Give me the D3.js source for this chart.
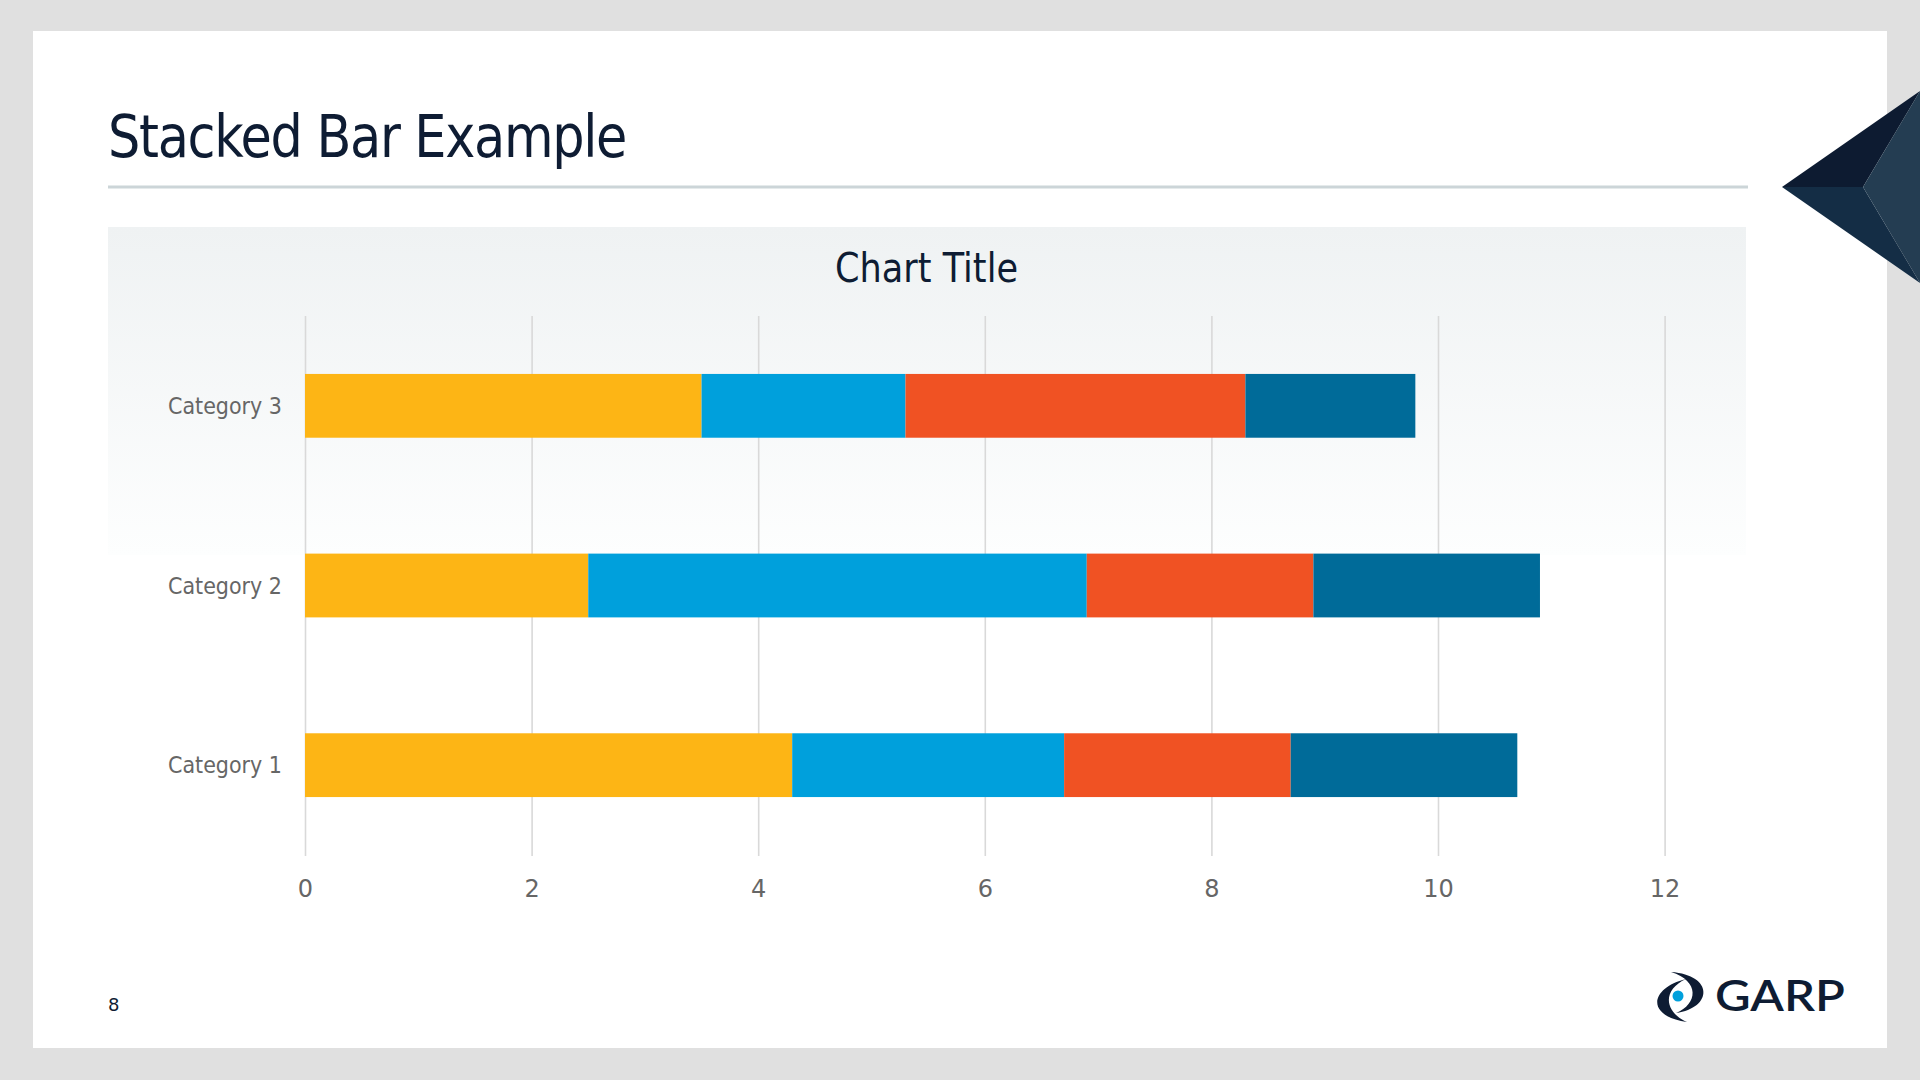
<!DOCTYPE html>
<html>
<head>
<meta charset="utf-8">
<script src="https://cdn.jsdelivr.net/npm/d3@7"></script>
<style>
  html, body { margin: 0; padding: 0; background: #e0e0e0; }
  svg { display: block; }
</style>
</head>
<body>
<svg id="chart" width="1920" height="1080"></svg>
<script>
// ---- data ----
const categories = ["Category 1", "Category 2", "Category 3"];
const seriesNames = ["Series 1", "Series 2", "Series 3", "Series 4"];
const series1 = [4.3, 2.5, 3.5];
const series2 = [2.4, 4.4, 1.8];
const series3 = [2.0, 2.0, 3.0];
const series4 = [2.0, 2.0, 1.5];
const seriesColors = ["#fdb515", "#00a0dc", "#f05223", "#006b99"];
const xTicks = [0, 2, 4, 6, 8, 10, 12];
const slideTitle = "Stacked Bar Example";
const chartTitle = "Chart Title";
const pageNumber = "8";

const rows = categories.map((c, i) => ({
  category: c,
  "Series 1": series1[i], "Series 2": series2[i],
  "Series 3": series3[i], "Series 4": series4[i]
}));

const svg = d3.select("#chart");
const FONT = "'DejaVu Sans', Verdana, sans-serif";
const NAVY = "#0e1c33";

// slide background
svg.append("rect").attr("x", 33).attr("y", 31).attr("width", 1854).attr("height", 1017).attr("fill", "#ffffff");

// slide title
svg.append("text").attr("x", 108).attr("y", 157)
  .attr("font-family", FONT).attr("font-size", 58).attr("fill", NAVY)
  .attr("letter-spacing", -1.5)
  .attr("textLength", 518).attr("lengthAdjust", "spacingAndGlyphs")
  .text(slideTitle);

// divider
svg.append("line").attr("x1", 108).attr("x2", 1748).attr("y1", 187).attr("y2", 187)
  .attr("stroke", "#ccd5d8").attr("stroke-width", 3);

// decorative pyramid
const deco = svg.append("g");
deco.append("polygon").attr("points", "1782,187 1920,91 1863,187").attr("fill", "#0d1b31");
deco.append("polygon").attr("points", "1782,187 1863,187 1920,283").attr("fill", "#142d45");
deco.append("polygon").attr("points", "1863,187 1920,91 1920,283").attr("fill", "#243d52");

// chart panel gradient
const defs = svg.append("defs");
const grad = defs.append("linearGradient").attr("id", "panelGrad")
  .attr("x1", 0).attr("y1", 0).attr("x2", 0).attr("y2", 1);
grad.append("stop").attr("offset", "0%").attr("stop-color", "#eff2f3");
grad.append("stop").attr("offset", "100%").attr("stop-color", "#fdfefe");
svg.append("rect").attr("x", 108).attr("y", 227).attr("width", 1638).attr("height", 328)
  .attr("fill", "url(#panelGrad)");

// chart title
svg.append("text").attr("x", 926.5).attr("y", 282).attr("text-anchor", "middle")
  .attr("font-family", FONT).attr("font-size", 40).attr("fill", NAVY)
  .attr("textLength", 183).attr("lengthAdjust", "spacingAndGlyphs")
  .text(chartTitle);

// scales
const x = d3.scaleLinear().domain([0, 12]).range([305, 1664.6]);
const y = d3.scaleBand().domain(categories.slice().reverse()).range([316, 855])
  .paddingInner(0.645).paddingOuter(0.3225);

// gridlines
const grid = svg.append("g").attr("transform", "translate(0,316)")
  .call(d3.axisBottom(x).tickValues(xTicks).tickSize(540).tickFormat(""));
grid.select(".domain").remove();
grid.selectAll("line").attr("stroke", "#d9d9d9").attr("stroke-width", 1.6);

// stacked bars
const stack = d3.stack().keys(seriesNames)(rows);
svg.append("g").selectAll("g").data(stack).join("g")
  .attr("fill", (d, i) => seriesColors[i])
  .selectAll("rect").data(d => d).join("rect")
  .attr("x", d => x(d[0]))
  .attr("width", d => x(d[1]) - x(d[0]))
  .attr("y", d => y(d.data.category))
  .attr("height", y.bandwidth());

// x tick labels
const xAxis = svg.append("g").attr("transform", "translate(0,870)")
  .call(d3.axisBottom(x).tickValues(xTicks).tickSize(0).tickPadding(0).tickFormat(d3.format("d")));
xAxis.select(".domain").remove();
xAxis.selectAll("text").attr("font-family", FONT).attr("font-size", 24)
  .attr("fill", "#666666").attr("dy", "0").attr("y", 27);

// category labels
const yAxis = svg.append("g").attr("transform", "translate(282,0)")
  .call(d3.axisLeft(y).tickSize(0).tickPadding(0));
yAxis.select(".domain").remove();
yAxis.selectAll("text").attr("font-family", FONT).attr("font-size", 23)
  .attr("fill", "#666666").attr("dy", "0.35em")
  .attr("textLength", 114).attr("lengthAdjust", "spacingAndGlyphs");

// page number
svg.append("text").attr("x", 108).attr("y", 1011)
  .attr("font-family", FONT).attr("font-size", 18).attr("fill", NAVY).text(pageNumber);

// GARP logo
const logo = svg.append("g");
logo.append("path").attr("d", "M1686,979 C1650,988 1645,1016 1687,1022 C1664,1012 1662,990 1686,979 Z").attr("fill", NAVY);
logo.append("path").attr("d", "M1671,972 C1714,975 1713,1008 1676,1013 C1698,1004 1700,981 1671,972 Z").attr("fill", NAVY);
logo.append("circle").attr("cx", 1678).attr("cy", 996).attr("r", 5.5).attr("fill", "#00a0dc");
logo.append("text").attr("x", 1715).attr("y", 1011)
  .attr("font-family", "Lato, 'Noto Sans', sans-serif").attr("font-weight", 600)
  .attr("font-size", 43).attr("fill", NAVY)
  .attr("textLength", 130).attr("lengthAdjust", "spacingAndGlyphs")
  .text("GARP");
</script>
</body>
</html>
